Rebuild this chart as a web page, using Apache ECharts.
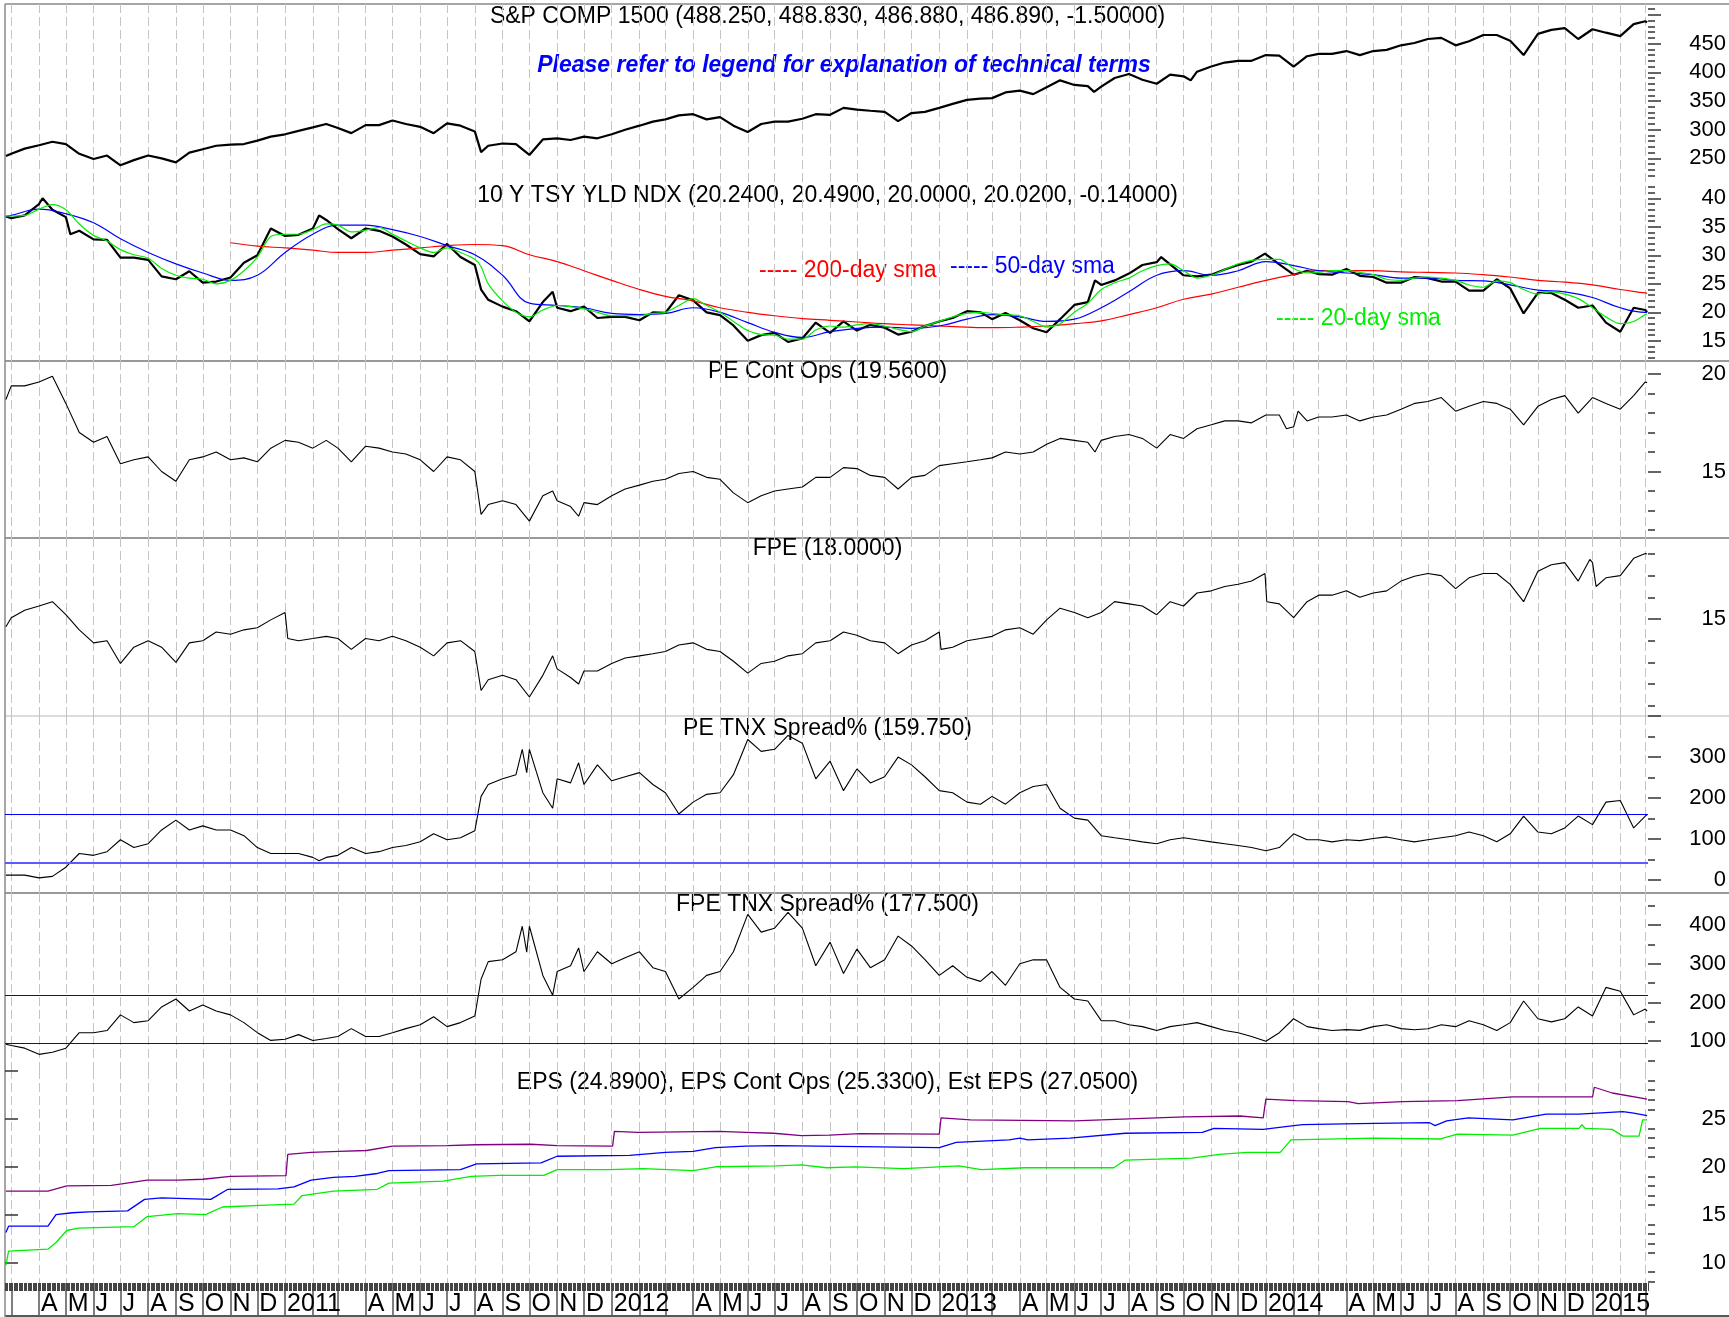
<!DOCTYPE html>
<html>
<head>
<meta charset="utf-8">
<title>S&amp;P COMP 1500 valuation</title>
<script src="https://cdn.jsdelivr.net/npm/echarts@6/dist/echarts.min.js"></script>
<style>
  html, body { margin: 0; padding: 0; background: #fff; }
  #chart { width: 1729px; height: 1317px; }
</style>
</head>
<body>
<div id="chart"></div>
<script>
// ---- sample dates (1st and 16th of each month) ----
const dates = [
  '2010-02-23','2010-03-01','2010-03-16','2010-04-01','2010-04-16','2010-05-01','2010-05-16','2010-06-01','2010-06-16','2010-07-01','2010-07-16',
  '2010-08-01','2010-08-16','2010-09-01','2010-09-16','2010-10-01','2010-10-16','2010-11-01','2010-11-16','2010-12-01','2010-12-16',
  '2011-01-01','2011-01-16','2011-02-01','2011-02-16','2011-03-01','2011-03-16','2011-04-01','2011-04-16','2011-05-01','2011-05-16','2011-06-01','2011-06-16',
  '2011-07-01','2011-07-16','2011-08-01','2011-08-08','2011-08-16','2011-09-01','2011-09-16','2011-10-01','2011-10-16','2011-11-01','2011-11-16','2011-12-01','2011-12-16',
  '2012-01-01','2012-01-16','2012-02-01','2012-02-16','2012-03-01','2012-03-16','2012-04-01','2012-04-16','2012-05-01','2012-05-16','2012-06-01','2012-06-16',
  '2012-07-01','2012-07-16','2012-08-01','2012-08-16','2012-09-01','2012-09-16','2012-10-01','2012-10-16','2012-11-01','2012-11-16','2012-12-01','2012-12-16',
  '2013-01-01','2013-01-16','2013-02-01','2013-02-16','2013-03-01','2013-03-16','2013-04-01','2013-04-16','2013-05-01','2013-05-16','2013-06-01','2013-06-16',
  '2013-07-01','2013-07-16','2013-08-01','2013-08-16','2013-09-01','2013-09-16','2013-10-01','2013-10-16','2013-11-01','2013-11-16','2013-12-01','2013-12-16',
  '2014-01-01','2014-01-16','2014-02-01','2014-02-16','2014-03-01','2014-03-16','2014-04-01','2014-04-16','2014-05-01','2014-05-16','2014-06-01','2014-06-16',
  '2014-07-01','2014-07-16','2014-08-01','2014-08-16','2014-09-01','2014-09-16','2014-10-01','2014-10-16','2014-11-01','2014-11-16','2014-12-01','2014-12-16',
  '2015-01-01','2015-01-16','2015-02-01','2015-02-16','2015-03-01','2015-03-03'
];

const spx = [
  254, 258, 267, 273, 279, 275, 258, 249, 255, 238, 247, 255, 250, 243, 260, 266, 272, 274, 275, 281, 288,
  292, 298, 304, 310, 303, 294, 308, 308, 316, 310, 305, 294, 311, 307, 297, 261, 272, 276, 275, 256, 283, 285, 282, 288, 285,
  292, 300, 307, 314, 318, 325, 327, 318, 322, 307, 296, 310, 314, 314, 319, 327, 326, 338, 335, 333, 331, 315, 329, 331,
  338, 345, 352, 354, 355, 365, 368, 362, 374, 386, 378, 376, 375, 390, 397, 387, 380, 396, 393, 401, 410, 417, 420, 420,
  430, 429, 410, 428, 432, 432, 437, 430, 437, 439, 447, 451, 458, 460, 447, 454, 465, 465, 455, 430, 467, 474, 477, 458,
  475, 469, 463, 484, 489, 486.89
];
const spxExtra = [['2013-06-23', 366], ['2013-10-09', 386]];

const tsy = [
  36.8, 36.5, 37.0, 39.0, 38.0, 36.7, 34.3, 32.8, 32.7, 29.6, 29.6, 29.2, 26.3, 25.8, 27.2, 25.2, 25.4, 26.1, 28.7, 30.0, 34.7,
  33.4, 33.6, 34.7, 36.2, 34.6, 33.0, 34.7, 34.3, 33.3, 31.9, 30.2, 29.8, 32.0, 29.7, 28.3, 24.0, 22.2, 21.0, 20.2, 18.4, 21.8, 20.8, 20.2, 21.0, 19.0,
  19.2, 19.2, 18.6, 20.0, 19.9, 23.0, 22.1, 20.0, 19.5, 17.7, 15.0, 16.0, 16.4, 14.8, 15.4, 18.2, 16.4, 18.4, 16.8, 17.8, 17.3, 16.1, 16.6, 17.6,
  18.4, 19.0, 20.2, 20.0, 18.8, 19.9, 18.6, 17.2, 16.5, 18.8, 21.3, 21.8, 24.8, 25.6, 26.8, 28.3, 28.8, 28.4, 26.5, 26.3, 26.6, 27.5, 28.3, 28.9,
  30.2, 28.4, 26.6, 27.3, 26.7, 26.6, 27.6, 26.4, 26.2, 25.2, 25.2, 26.2, 26.0, 25.4, 25.4, 23.8, 23.8, 25.8, 24.2, 19.8, 23.4, 23.4, 22.2, 20.8,
  21.2, 18.2, 16.6, 20.8, 20.4, 20.02
];
const tsyExtra = [
  ['2010-04-05', 40.0], ['2010-05-06', 33.7], ['2011-02-08', 37.0], ['2011-10-27', 23.6],
  ['2013-06-24', 25.6], ['2013-09-06', 29.7], ['2013-12-31', 30.3]
];

const sma20 = [
  36.9, 36.9, 37.0, 38.1, 38.9, 38.0, 35.5, 33.5, 32.5, 31.0, 30.1, 29.5, 27.7, 26.5, 26.0, 25.8, 25.0, 25.6, 27.3, 29.7, 33.3,
  33.7, 33.7, 34.5, 35.5, 35.3, 34.1, 34.4, 34.9, 33.7, 32.5, 31.3, 30.5, 31.3, 30.5, 29.3, 28.0, 25.0, 22.0, 20.0, 19.2, 20.4, 21.2, 21.0, 20.6, 20.0,
  19.4, 19.4, 19.4, 19.8, 20.0, 21.2, 22.4, 21.2, 20.0, 18.4, 16.8, 16.1, 16.0, 15.3, 15.3, 16.9, 17.6, 17.4, 17.8, 18.0, 17.6, 17.0, 16.6, 17.6,
  18.4, 19.2, 19.8, 20.0, 19.8, 19.6, 19.4, 18.4, 17.4, 18.0, 20.0, 21.6, 24.0, 25.2, 26.0, 27.3, 28.2, 28.5, 27.3, 26.0, 26.5, 27.5, 28.5, 29.1,
  29.3, 29.3, 27.7, 26.9, 27.0, 27.3, 27.3, 27.0, 26.6, 25.8, 25.6, 26.0, 26.2, 26.0, 25.6, 24.8, 24.4, 25.5, 25.2, 24.0, 23.2, 23.6, 23.2, 22.4,
  20.8, 19.2, 18.0, 18.4, 19.6, 19.7
];

const pe = [
  18.7, 19.4, 19.4, 19.6, 19.9, 18.5, 17.0, 16.5, 16.8, 15.4, 15.6, 15.75, 15.0, 14.5, 15.6, 15.75, 16.0, 15.6, 15.7, 15.5, 16.2,
  16.6, 16.5, 16.2, 16.6, 16.2, 15.5, 16.3, 16.2, 16.0, 15.9, 15.6, 15.0, 15.75, 15.6, 15.0, 12.8, 13.3, 13.5, 13.3, 12.45, 13.75, 13.5, 13.2, 13.4, 13.3,
  13.75, 14.1, 14.3, 14.5, 14.6, 14.9, 15.0, 14.7, 14.6, 13.9, 13.4, 13.75, 14.0, 14.1, 14.2, 14.7, 14.7, 15.2, 15.15, 14.8, 14.7, 14.1, 14.7, 14.8,
  15.3, 15.4, 15.5, 15.6, 15.7, 16.0, 15.9, 16.0, 16.4, 16.7, 16.6, 16.5, 16.6, 16.8, 16.9, 16.7, 16.2, 16.9, 16.7, 17.2, 17.4, 17.6, 17.6, 17.5,
  17.9, 17.9, 17.3, 17.6, 17.8, 17.8, 17.9, 17.6, 17.8, 17.9, 18.2, 18.5, 18.6, 18.8, 18.1, 18.35, 18.6, 18.5, 18.2, 17.4, 18.35, 18.7, 18.9, 18.0,
  18.8, 18.5, 18.2, 18.9, 19.6, 19.56
];
const peExtra = [
  ['2011-10-27', 14.0], ['2011-11-25', 12.7], ['2013-06-24', 16.0], ['2014-01-24', 17.2], ['2014-02-06', 18.1]
];

const fpe = [
  14.64, 15.06, 15.4, 15.6, 15.8, 15.2, 14.5, 13.9, 14.0, 12.95, 13.7, 14.0, 13.7, 13.0, 13.9, 14.0, 14.4, 14.3, 14.5, 14.6, 14.96,
  15.3, 14.0, 14.1, 14.2, 14.1, 13.6, 14.1, 14.0, 14.2, 14.0, 13.7, 13.3, 13.9, 14.0, 13.5, 11.7, 12.2, 12.4, 12.2, 11.4, 12.4, 12.7, 12.3, 12.6, 12.6,
  12.95, 13.2, 13.3, 13.4, 13.5, 13.8, 13.9, 13.6, 13.5, 13.05, 12.5, 12.95, 13.05, 13.3, 13.4, 13.9, 14.0, 14.4, 14.25, 14.0, 13.9, 13.4, 13.8, 14.0,
  14.4, 13.7, 14.0, 14.1, 14.2, 14.5, 14.6, 14.3, 14.96, 15.5, 15.3, 15.06, 15.3, 15.8, 15.7, 15.6, 15.2, 15.8, 15.6, 16.2, 16.3, 16.5, 16.6, 16.75,
  17.1, 15.7, 15.06, 15.8, 16.1, 16.1, 16.3, 16.0, 16.2, 16.3, 16.75, 16.97, 17.1, 17.0, 16.4, 16.9, 17.1, 17.1, 16.6, 15.8, 17.2, 17.5, 17.6, 16.75,
  17.6, 16.9, 17.0, 17.8, 18.02, 18.0
];
// year-turn drops in forward P/E and a few extra turning points
const fpeExtra = [
  ['2011-01-03', 15.3], ['2011-01-04', 14.1], ['2011-10-27', 13.3], ['2011-11-25', 12.0],
  ['2013-01-02', 14.4], ['2013-01-03', 13.6],
  ['2013-12-31', 17.1], ['2014-01-02', 15.8],
  ['2014-12-29', 17.75], ['2015-01-02', 17.6], ['2015-01-05', 16.5]
];

const peSpread = [
  11.6, 11.6, 11.6, 5, 8.7, 31, 64.5, 60, 69, 98, 79, 88.5, 122, 146, 122, 132, 122, 122, 108, 79, 64.5,
  64.5, 64.5, 55, 55, 60, 79, 64.5, 69, 79, 84, 93, 112.6, 98, 103, 120, 204, 233, 247, 257, 319, 213, 247, 237, 233, 281,
  242, 252, 262, 233, 213, 161, 190, 209, 213, 257, 343, 314, 319, 353, 334, 247, 290, 218, 271, 237, 252, 300, 281, 252,
  218, 213, 190, 185, 204, 185, 213, 228, 233, 175, 151, 146, 108, 103, 98, 93, 88.5, 98, 103, 98, 93, 88.5, 84, 79,
  71, 79, 112.6, 98, 98, 93, 98, 96, 101, 105, 98, 93, 98, 103, 108, 117, 108, 93, 112.6, 156, 117, 112.6, 127, 156,
  135, 190, 194, 127, 156, 159.75
];
const peSpreadExtra = [
  ['2011-02-08', 47], ['2011-09-23', 319], ['2011-09-28', 262], ['2011-10-27', 175], ['2011-11-25', 286]
];

const fpeSpread = [
  92, 89, 82, 66, 71.5, 82, 122, 122, 127.5, 168, 148, 153, 188.5, 209, 178, 193.6, 178, 168, 148, 122, 102,
  105, 117, 102, 107, 112, 132.5, 112, 112, 122, 132.5, 142.7, 163, 137.6, 148, 165, 260, 305.5, 310.6, 331, 397, 270, 280, 295, 280, 331,
  300, 315.7, 331, 290, 280, 209, 239, 270, 280, 331, 427.6, 381.8, 392, 432.6, 392, 295, 356, 275, 338, 290, 310.6, 371.6, 346, 310.6,
  270, 295, 265, 254.6, 280, 244.5, 300, 310.6, 310, 239, 209, 203.8, 153, 153, 142.7, 137.6, 127.5, 137.6, 142.7, 148, 137.6, 127.5, 122, 112,
  100, 122, 158, 137.6, 132.5, 127.5, 130, 128, 137.6, 142.7, 132.5, 129.5, 132, 142.7, 137.6, 153, 142.7, 127.5, 148, 203.8, 158, 150, 158, 188.5,
  165, 239, 229, 168, 183, 177.5
];
const fpeSpreadExtra = [
  ['2011-09-23', 397], ['2011-09-28', 330], ['2011-10-27', 219], ['2011-11-25', 341]
];
const peSpreadLevels = [159.75, 42.5];
const fpeSpreadLevels = [219, 95];

// ---- monthly readings of the slower moving averages ----
const smaDates = [
  '2010-02-23','2010-03-01','2010-04-01','2010-05-01','2010-06-01','2010-07-01','2010-08-01','2010-09-01','2010-10-01','2010-11-01','2010-12-01',
  '2011-01-01','2011-02-01','2011-03-01','2011-04-01','2011-05-01','2011-06-01','2011-07-01','2011-08-01','2011-09-01','2011-10-01','2011-11-01','2011-12-01',
  '2012-01-01','2012-02-01','2012-03-01','2012-04-01','2012-05-01','2012-06-01','2012-07-01','2012-08-01','2012-09-01','2012-10-01','2012-11-01','2012-12-01',
  '2013-01-01','2013-02-01','2013-03-01','2013-04-01','2013-05-01','2013-06-01','2013-07-01','2013-08-01','2013-09-01','2013-10-01','2013-11-01','2013-12-01',
  '2014-01-01','2014-02-01','2014-03-01','2014-04-01','2014-05-01','2014-06-01','2014-07-01','2014-08-01','2014-09-01','2014-10-01','2014-11-01','2014-12-01',
  '2015-01-01','2015-02-01','2015-03-01','2015-03-03'
];
const sma50 = [
  36.8, 37.0, 38.1, 37.3, 35.7, 32.9, 30.5, 28.5, 26.9, 25.6, 26.5,
  30.5, 33.7, 35.3, 35.3, 34.5, 33.3, 31.7, 30.1, 26.5, 21.6, 21.2, 20.8,
  19.8, 19.6, 19.8, 20.8, 20.0, 18.2, 16.5, 15.6, 16.6, 17.2, 17.4, 17.2,
  17.6, 18.8, 19.6, 19.2, 18.4, 18.8, 20.8, 23.6, 26.5, 27.3, 26.5, 27.3,
  28.9, 28.2, 27.3, 26.9, 26.6, 26.0, 26.0, 25.6, 25.5, 24.8, 23.9, 23.6,
  22.6, 20.8, 20.0, 20.0
];
const sma200 = [
  null, null, null, null, null, null, null, null, null, 32.2, 31.6,
  31.3, 30.9, 30.5, 30.5, 30.9, 31.3, 31.7, 31.9, 31.7, 30.1, 28.9, 27.3,
  25.6, 24.0, 22.8, 22.0, 20.8, 20.0, 19.4, 18.9, 18.6, 18.3, 18.0, 17.8,
  17.6, 17.4, 17.3, 17.4, 17.6, 18.0, 18.5, 19.6, 20.8, 22.3, 23.2, 24.4,
  25.6, 26.6, 27.3, 27.3, 27.3, 27.1, 27.0, 26.9, 26.6, 26.2, 25.6, 25.3,
  24.8, 24.0, 23.4, 23.3
];

// ---- earnings lines (step-like, read at each change) ----
const estEps = [
  ['2010-02-23',17.45],['2010-04-11',17.45],['2010-05-02',18.0],['2010-06-21',18.06],['2010-07-31',18.6],['2010-09-03',18.6],
  ['2010-10-01',18.7],['2010-11-01',19.0],['2011-01-02',19.08],['2011-01-04',21.3],['2011-01-30',21.5],['2011-03-02',21.6],
  ['2011-04-02',21.7],['2011-05-01',22.15],['2011-07-01',22.2],['2011-08-02',22.3],['2011-10-03',22.35],['2011-11-01',22.2],
  ['2012-01-02',22.15],['2012-01-04',23.7],['2012-01-30',23.6],['2012-04-30',23.7],['2012-05-30',23.6],['2012-06-30',23.5],
  ['2012-07-31',23.25],['2012-08-31',23.3],['2012-10-04',23.45],['2013-01-01',23.4],['2013-01-03',25.1],['2013-02-05',24.9],
  ['2013-06-01',24.8],['2013-08-01',25.0],['2013-10-02',25.2],['2013-12-03',25.3],['2013-12-29',25.1],['2014-01-01',27.06],
  ['2014-02-03',26.9],['2014-04-03',26.8],['2014-04-14',26.6],['2014-06-03',26.8],['2014-08-03',26.9],['2014-10-04',27.3],
  ['2015-01-01',27.3],['2015-01-03',28.3],['2015-01-23',27.7],['2015-03-03',27.05]
];
const epsContOps = [
  ['2010-02-23',13.15],['2010-02-26',13.8],['2010-04-11',13.8],['2010-04-20',15.0],['2010-05-08',15.2],['2010-05-27',15.3],
  ['2010-07-09',15.4],['2010-07-28',16.6],['2010-08-16',16.75],['2010-10-10',16.6],['2010-10-29',17.65],['2010-12-24',17.7],
  ['2011-01-11',17.9],['2011-01-30',18.6],['2011-02-24',18.9],['2011-03-20',19.0],['2011-04-14',19.3],['2011-04-27',19.6],
  ['2011-07-16',19.7],['2011-08-03',20.3],['2011-10-14',20.4],['2011-11-01',21.1],['2012-01-21',21.2],['2012-03-01',21.5],
  ['2012-04-01',21.6],['2012-04-26',22.0],['2012-05-30',22.15],['2012-07-03',22.2],['2012-10-04',22.1],['2013-01-01',22.0],
  ['2013-01-20',22.55],['2013-03-20',22.8],['2013-04-01',23.0],['2013-04-10',22.8],['2013-05-27',23.0],['2013-07-28',23.5],
  ['2013-10-22',23.6],['2013-11-04',24.0],['2013-12-29',23.9],['2014-01-23',24.2],['2014-02-11',24.4],['2014-04-14',24.5],
  ['2014-07-03',24.6],['2014-07-09',24.3],['2014-07-22',24.8],['2014-08-15',25.1],['2014-10-04',24.9],['2014-11-10',25.5],
  ['2014-12-17',25.5],['2015-02-04',25.75],['2015-02-16',25.6],['2015-03-03',25.33]
];
const eps = [
  ['2010-02-23',9.7],['2010-02-26',11.2],['2010-04-11',11.4],['2010-04-20',12.1],['2010-05-02',13.35],['2010-05-15',13.6],
  ['2010-07-16',13.75],['2010-07-31',14.8],['2010-09-03',15.1],['2010-10-04',15.0],['2010-10-23',15.8],['2010-12-11',16.0],
  ['2011-01-11',16.1],['2011-01-20',17.0],['2011-02-24',17.45],['2011-04-14',17.65],['2011-04-27',18.3],['2011-06-27',18.5],
  ['2011-07-28',19.0],['2011-08-28',19.1],['2011-10-17',19.1],['2011-11-01',19.7],['2011-12-30',19.7],['2012-02-05',19.8],
  ['2012-04-01',19.6],['2012-04-26',20.0],['2012-07-03',20.1],['2012-07-31',20.2],['2012-08-28',19.9],['2012-09-29',20.0],
  ['2012-11-22',19.8],['2013-01-23',20.1],['2013-02-17',19.7],['2013-04-07',19.9],['2013-07-15',19.9],['2013-07-28',20.7],
  ['2013-10-10',20.9],['2013-11-10',21.3],['2013-12-11',21.5],['2014-01-17',21.5],['2014-01-29',22.8],['2014-05-02',23.0],
  ['2014-07-15',22.9],['2014-08-03',23.4],['2014-10-04',23.3],['2014-11-04',24.0],['2014-12-17',24.0],['2014-12-20',24.4],
  ['2014-12-24',24.0],['2015-01-23',23.9],['2015-02-04',23.2],['2015-02-22',23.2],['2015-02-26',24.9],['2015-03-03',24.89]
];

// ---- axis ticks / labels ----
const monthLetters = ['', '', '', 'A', 'M', 'J', 'J', 'A', 'S', 'O', 'N', 'D']; // January shows the year
const day = s => Date.parse(s); // ISO date -> UTC ms
const monthStarts = [];
for (let y = 2010; y <= 2015; y++) {
  for (let m = 0; m < 12; m++) {
    if ((y === 2010 && m < 2) || (y === 2015 && m > 2)) continue;
    monthStarts.push(Date.UTC(y, m, 1));
  }
}
function steps(a, b, s) { const out = []; for (let v = a; v <= b + 1e-9; v += s) out.push(+v.toFixed(3)); return out; }
function without(list, ex) { return list.filter(v => ex.indexOf(v) < 0); }

const spxMajor = [250, 300, 350, 400, 450, 500], spxLabels = [250, 300, 350, 400, 450];
const tsyMajor = [15, 20, 25, 30, 35, 40];
const peMajor = [15, 20];
const fpeMajor = [15];
const peSpMajor = [0, 100, 200, 300, 400], peSpLabels = [0, 100, 200, 300];
const fpeSpMajor = [100, 200, 300, 400];
const epsMajor = [10, 15, 20, 25, 30], epsLabels = [10, 15, 20, 25];

const FONT = "'Liberation Sans', Arial, sans-serif";
const xMin = Date.UTC(2010, 1, 22), xMax = Date.UTC(2015, 2, 4);

// panel rows in pixels
const panels = [[4, 361], [361, 538], [538, 716], [716, 893], [893, 1070], [1070, 1284]];

function yPair(grid, min, max, major, labels, minor) {
  const base = { type: 'value', gridIndex: grid, position: 'right', min: min, max: max,
    axisLine: { show: false }, splitLine: { show: false } };
  return [
    Object.assign({}, base, {
      axisTick: { show: true, length: 13, customValues: major, lineStyle: { color: '#333', width: 1.5 } },
      axisLabel: { show: true, customValues: labels, align: 'right', margin: 78, padding: [6, 0, 0, 0],
        fontSize: 22, fontFamily: FONT, color: '#000' }
    }),
    Object.assign({}, base, {
      axisTick: { show: true, length: 7, customValues: minor, lineStyle: { color: '#333', width: 1.5 } },
      axisLabel: { show: false }
    })
  ];
}

const yAxes = [].concat(
  yPair(0, -102.96, 518.99, spxMajor, spxLabels, without(steps(220, 510, 10), spxMajor)),
  yPair(0, 11.46, 74.09, tsyMajor, tsyMajor, without(steps(12, 42, 1), tsyMajor)),
  yPair(1, 11.583, 20.678, peMajor, peMajor, without(steps(12, 20, 1), peMajor)),
  yPair(2, 10.524, 18.738, fpeMajor, fpeMajor, without(steps(11, 18, 1), fpeMajor)),
  yPair(3, -32.0, 400.4, peSpMajor, peSpLabels, [50, 150, 250, 350]),
  yPair(4, 25.58, 482.9, fpeSpMajor, fpeSpMajor, [50, 150, 250, 350, 450]),
  yPair(5, 7.87, 30.1, epsMajor, epsLabels, without(steps(8, 29, 1), epsMajor))
);

const xAxes = panels.map((p, i) => ({
  type: 'value', gridIndex: i, min: xMin, max: xMax, position: 'bottom',
  axisLine: { show: false },
  axisTick: i === 5
    ? { show: true, customValues: monthStarts, length: 32, lineStyle: { color: '#555', width: 1.5 } }
    : { show: false, customValues: monthStarts },
  axisLabel: i === 5
    ? { show: true, customValues: monthStarts, align: 'left', margin: 9, padding: [0, 0, 0, 2],
        fontSize: 25, lineHeight: 25, fontFamily: FONT, color: '#000',
        formatter: function (v) {
          const d = new Date(v);
          return d.getUTCMonth() === 0 ? String(d.getUTCFullYear()) : monthLetters[d.getUTCMonth()];
        } }
    : { show: false },
  splitLine: { show: true, lineStyle: { color: '#c4c4c4', width: 1, type: [9, 4] } }
}));
// dense band of daily ticks under the bottom panel
xAxes.push({
  type: 'value', gridIndex: 5, position: 'bottom', min: 0, max: 1296, interval: 1,
  axisLine: { show: false }, axisLabel: { show: false }, splitLine: { show: false },
  axisTick: { show: true, length: 8, lineStyle: { color: '#444', width: 1 } }
});

const pairs = (ds, vs) => ds.map((d, i) => [day(d), vs[i]]);
const dated = list => list.map(p => [day(p[0]), p[1]]);
const merged = (ds, vs, extra) => pairs(ds, vs).concat(dated(extra)).sort((a, b) => a[0] - b[0]);

function line(x, y, data, color, width, extra) {
  return Object.assign({
    type: 'line', xAxisIndex: x, yAxisIndex: y, data: data, showSymbol: false, symbol: 'none',
    silent: true, animation: false, connectNulls: false,
    lineStyle: { color: color, width: width }, itemStyle: { color: color }
  }, extra || {});
}
function levels(vals, colors, widths) {
  return {
    silent: true, symbol: 'none', animation: false, label: { show: false },
    data: vals.map((v, i) => ({ yAxis: v, lineStyle: { color: colors[i], width: widths[i], type: 'solid' } }))
  };
}

const series = [
  line(0, 0, merged(dates, spx, spxExtra), '#000', 2.2),
  line(0, 2, merged(dates, tsy, tsyExtra), '#000', 2.2),
  line(0, 2, pairs(smaDates, sma200), '#ff0000', 1.2, { smooth: 0.4 }),
  line(0, 2, pairs(smaDates, sma50), '#0000ff', 1.2, { smooth: 0.4 }),
  line(0, 2, pairs(dates, sma20), '#00ee00', 1.2, { smooth: 0.3 }),
  line(1, 4, merged(dates, pe, peExtra), '#000', 1.1),
  line(2, 6, merged(dates, fpe, fpeExtra), '#000', 1.1),
  line(3, 8, merged(dates, peSpread, peSpreadExtra), '#000', 1.1,
    { markLine: levels(peSpreadLevels, ['#0000ff', '#5a5aff'], [1, 2.2]) }),
  line(4, 10, merged(dates, fpeSpread, fpeSpreadExtra), '#000', 1.1,
    { markLine: levels(fpeSpreadLevels, ['#0000ff', '#0000ff'], [1, 1]) }),
  line(5, 12, dated(estEps), '#800080', 1.3),
  line(5, 12, dated(epsContOps), '#0000ff', 1.3),
  line(5, 12, dated(eps), '#00ee00', 1.3)
];

function txt(x, y, text, color, font, align) {
  return { type: 'text', x: x, y: y, silent: true,
    style: { text: text, fill: color, font: font, align: align || 'center', verticalAlign: 'middle' } };
}
function hline(y, color, x1) {
  return { type: 'line', silent: true, shape: { x1: x1 || 5, y1: y, x2: 1729, y2: y },
    style: { stroke: color, lineWidth: 1.5 } };
}
const T = "23px 'Liberation Sans', Arial, sans-serif";
const graphics = [
  hline(4, '#888'), hline(361, '#777'), hline(538, '#777'), hline(716, '#cfcfcf'), hline(893, '#777'),
  hline(1316, '#222', 0),
  { type: 'line', silent: true, shape: { x1: 5, y1: 4, x2: 5, y2: 1317 }, style: { stroke: '#888', lineWidth: 1.5 } },
  txt(827.5, 17, 'S&P COMP 1500 (488.250, 488.830, 486.880, 486.890, -1.50000)', '#000', T),
  txt(844, 65.5, 'Please refer to legend for explanation of technical terms', '#0000ff',
    "italic bold 23px 'Liberation Sans', Arial, sans-serif"),
  txt(827.5, 195.5, '10 Y TSY YLD NDX (20.2400, 20.4900, 20.0000, 20.0200, -0.14000)', '#000', T),
  txt(759, 271, '----- 200-day sma', '#ff0000', T, 'left'),
  txt(950, 266.5, '----- 50-day sma', '#0000ff', T, 'left'),
  txt(1276, 319, '----- 20-day sma', '#00ee00', T, 'left'),
  txt(827.5, 372, 'PE Cont Ops (19.5600)', '#000', T),
  txt(827.5, 549, 'FPE (18.0000)', '#000', T),
  txt(827.5, 728.5, 'PE TNX Spread% (159.750)', '#000', T),
  txt(827.5, 905, 'FPE TNX Spread% (177.500)', '#000', T),
  txt(827.5, 1082.5, 'EPS (24.8900), EPS Cont Ops (25.3300), Est EPS (27.0500)', '#000', T)
];

const chart = echarts.init(document.getElementById('chart'), null, { renderer: 'canvas' });
chart.setOption({
  animation: false,
  backgroundColor: '#fff',
  grid: panels.map(p => ({ left: 5, width: 1645, top: p[0], height: p[1] - p[0], show: false })),
  xAxis: xAxes,
  yAxis: yAxes,
  series: series,
  graphic: { elements: graphics }
});
</script>
</body>
</html>
